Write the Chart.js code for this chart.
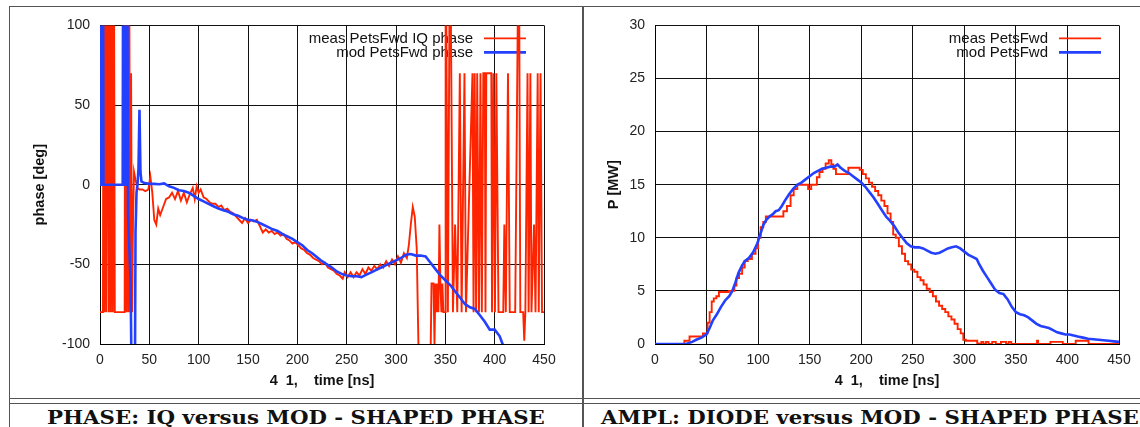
<!DOCTYPE html>
<html>
<head>
<meta charset="utf-8">
<script src="https://cdn.jsdelivr.net/npm/chart.js@4.4.0/dist/chart.umd.min.js"></script>
<style>
  body { margin: 0; width: 1140px; height: 427px; overflow: hidden; background: #fff; position: relative; }
  .rule { position: absolute; background: #555; }
  canvas { position: absolute; }
  .cap { position: absolute; top: 406px; line-height: 19px; font: bold 19px "DejaVu Serif", serif; white-space: nowrap; color: #111;
         transform: scaleX(1.12); transform-origin: 0 0; }
</style>
</head>
<body>
<div class="rule" style="left:9px;top:6px;width:1131px;height:1px"></div>
<div class="rule" style="left:9px;top:6px;width:1px;height:421px"></div>
<div class="rule" style="left:582px;top:6px;width:1.5px;height:421px"></div>
<div class="rule" style="left:9px;top:398px;width:1131px;height:1px"></div>
<div class="rule" style="left:9px;top:403px;width:1131px;height:1px"></div>

<canvas id="phase" width="572" height="391" style="left:10px;top:7px"></canvas>
<canvas id="ampl" width="557" height="391" style="left:584px;top:7px"></canvas>

<div class="cap" style="left:47px">PHASE: IQ versus MOD - SHAPED PHASE</div>
<div class="cap" style="left:601px">AMPL: DIODE versus MOD - SHAPED PHASE</div>

<script>
// phase plot: measured IQ phase (red) and model phase (blue), deg vs ns
var measPhaseT = [0, 3, 3.5, 4.5, 5.5, 6.5, 8, 9, 10, 11, 12, 13, 14, 15, 25, 25.5, 26.5, 27.5, 28.5, 29.5, 30.5, 31.5, 32.5, 33.5, 34.5,
  36, 38, 40, 43, 46, 49, 51, 53, 55, 57, 59, 61, 64, 67, 70, 73, 76, 79, 82, 85, 88, 91, 94, 96, 98,
  100, 102, 105, 108, 111, 114, 117, 120, 123, 126, 129, 132, 135, 138, 141, 144, 147, 150, 153, 156, 159,
  162, 165, 168, 171, 174, 177, 180, 183, 186, 189, 192, 195, 198, 201, 204, 207, 210, 213, 216, 219,
  222, 225, 228, 231, 234, 237, 240, 243, 246, 248, 251, 254, 257, 260, 263, 266, 269, 272, 275, 278,
  281, 284, 287, 290, 293, 296, 299, 302, 305, 308, 311, 313, 315, 317, 319, 321, 323, 330, 335, 336,
  338, 339, 340, 341, 342, 343, 344, 345, 346, 347, 348, 350, 350.3, 352.6, 354.8, 357.7, 359.9, 362.1,
  364.7, 366.5, 369.4, 370.9, 377.5, 378.6, 379.7, 381.2, 382.3, 384.1, 385.6, 387, 388.5, 390, 390.7,
  391.5, 396.6, 397.3, 398.8, 400.3, 401.7, 403.9, 408.7, 409.8, 411.3, 413.5, 415.3, 420.8, 424.5, 426,
  428.9, 430, 431.1, 433.3, 434.4, 436.2, 437.3, 439.9, 441.4, 443.6, 444.7, 446.5, 448, 450];
var measPhase = [-80, -80, 180, -80, 180, -80, 180, -80, 180, -80, 180, -80, 180, -80, -80, 180, -80, 180, -80, 180, -80, 70, -80, -20, 8,
  3, -2, -3, -3, -4, -3, 5, -5, -22, -25, -15, -19, -14, -9, -8, -5, -9, -4, -10, -5, -11, -6, -2, -9, -1,
  -5, -3, -8, -9, -11, -12, -12, -14, -13, -16, -15, -17, -18, -20, -22, -24, -21, -24, -22, -23, -22,
  -26, -30, -28, -30, -29, -31, -30, -32, -31, -34, -35, -37, -36, -38, -40, -41, -43, -44, -46, -47,
  -48, -50, -49, -52, -53, -54, -56, -57, -59, -55, -58, -55, -58, -55, -57, -53, -56, -52, -54, -51,
  -53, -50, -52, -48, -51, -47, -50, -45, -49, -43, -46, -38, -25, -14, -20, -40, -110, -110, -110, -62,
  -62, -100, -62, -80, -62, -80, -25, -62, -80, -62, -80, -80, 180, -80, 180, -80, -25, -80,
  70, -80, 70, -80, 70, -80, 70, -80, 70, -80, 70, -80, 70, 70, -80,
  70, 70, -80, 70, -80, 70, -80, -80, -25, -80, 70, -80, -80, 180, -80,
  -80, -98, -80, 70, -80, 70, -80, -25, -80, 70, -80, 70, -80, -80];

var modPhaseT = [0, 0.5, 2.5, 3, 3.5, 23, 23.5, 25, 25.5, 27, 27.5, 28.5, 31, 33, 35, 36, 37, 38, 39, 40, 41, 42, 45,
  50, 55, 60, 65, 70, 75, 80, 85, 90, 95, 100, 105, 110, 115, 120, 125, 130, 135, 140, 145, 150, 155,
  160, 165, 170, 175, 180, 185, 190, 195, 200, 205, 210, 215, 220, 225, 230, 235, 240, 245, 250, 255,
  260, 265, 270, 275, 280, 285, 290, 295, 300, 305, 310, 315, 320, 325, 330, 335, 340, 345, 350, 355,
  360, 365, 370, 375, 380, 385, 390, 395, 400, 405, 408, 410];
var modPhase = [180, 0, 0, 180, 0, 0, 180, 180, 0, 0, 180, -20, -60, -180, -180, -30, -5, 0, 10, 47, 8, 2, 1,
  0.5, 0.5, 0.3, 0.8, -1, -2, -3.5, -4, -5, -7, -9, -10.5, -12, -13.5, -15, -16, -17, -18.5, -19.5, -21, -22, -22.5,
  -23.5, -25, -26.5, -28, -29, -31, -32.5, -34, -36, -38, -41, -43, -45.5, -48, -50, -52, -54.5, -56, -57, -57.5,
  -57.5, -58, -56.5, -55, -53.5, -52, -50.5, -49, -47.5, -46, -44, -43.5, -44.5, -44.5, -45, -49, -53, -57, -60, -63,
  -67, -71, -75, -77, -78, -82, -86, -91, -91, -95, -100, -105];

// power plot: measured diode (red) and model (blue), MW vs ns
var measPowT = [0, 28, 29, 33, 34, 46, 47, 50, 52, 54, 56, 58, 61, 63, 70, 73, 76, 78, 80, 83, 86, 88, 92, 96, 99,
  101, 104, 106, 109, 113, 118, 123, 126, 130, 133, 136, 140, 143, 147, 150, 153, 156, 158, 161, 164, 167,
  170, 172, 174, 177, 183, 186, 189, 193, 197, 200, 203, 206, 209, 212, 215, 218, 221, 224, 227, 230, 232,
  235, 238, 241, 244, 247, 250, 253, 256, 259, 262, 265, 268, 271, 274, 277, 280, 283, 286, 289, 292, 295,
  298, 300, 303, 312, 313, 315, 318, 319, 323, 324, 330, 331, 340, 341, 345, 346, 370, 371, 372, 395, 396,
  420, 421, 450];
var measPow = [0, 0, 0.3, 0.3, 0.7, 0.7, 1.0, 1.0, 2.0, 3.0, 4.0, 4.3, 4.5, 4.9, 4.9, 5.0, 5.0, 5.5, 6.2, 6.6, 7.2, 7.8, 8.0, 8.5, 9.0,
  10.0, 11.0, 11.5, 12.0, 12.0, 12.0, 12.0, 12.5, 13.0, 14.0, 14.6, 15.0, 15.0, 15.0, 14.6, 15.0, 15.0, 15.7, 16.2, 16.5, 17.0,
  17.3, 16.9, 16.5, 16.0, 16.0, 16.0, 16.6, 16.6, 16.6, 16.4, 16.0, 15.6, 15.2, 14.8, 14.4, 14.0, 13.5, 13.0, 12.3, 11.5, 10.3,
  10.0, 9.2, 8.5, 7.8, 7.5, 7.0, 6.8, 6.3, 6.0, 5.6, 5.2, 4.9, 4.5, 4.0, 3.6, 3.3, 3.0, 2.6, 2.3, 1.9, 1.4,
  1.0, 0.4, 0.3, 0.3, 0.05, 0, 0.2, 0, 0.2, 0, 0.2, 0, 0.2, 0, 0.2, 0, 0, 0.3, 0, 0.2, 0,
  0.3, 0, 0];

var modPowT = [0, 30, 33, 36, 40, 45, 50, 53, 56, 60, 64, 68, 72, 75, 78, 81, 84, 87, 91, 95, 99, 102, 105, 108, 111,
  114, 117, 120, 123, 126, 130, 134, 138, 142, 146, 150, 154, 158, 162, 166, 170, 174, 177, 180, 184, 188,
  192, 196, 200, 204, 208, 212, 216, 220, 224, 228, 232, 236, 240, 244, 248, 252, 256, 260, 264, 268, 272,
  276, 280, 284, 288, 292, 296, 300, 304, 308, 312, 314, 318, 322, 326, 330, 334, 338, 342, 346, 350, 354,
  358, 362, 366, 370, 374, 378, 382, 386, 390, 394, 398, 402, 406, 410, 415, 420, 425, 430, 435, 440, 445, 450];
var modPow = [0, 0, 0.1, 0.2, 0.4, 0.6, 0.9, 1.5, 2.2, 2.8, 3.5, 4.1, 4.5, 5.0, 5.8, 6.7, 7.3, 7.8, 8.1, 8.6, 9.4, 10.3, 11.2, 11.7, 12.0,
  12.2, 12.5, 12.6, 13.0, 13.5, 14.1, 14.6, 15.0, 15.2, 15.5, 15.8, 16.1, 16.3, 16.5, 16.6, 16.7, 16.7, 16.9, 16.6, 16.3, 16.1,
  15.8, 15.5, 15.2, 14.8, 14.3, 13.8, 13.2, 12.6, 12.0, 11.6, 11.1, 10.5, 10.0, 9.5, 9.2, 9.1, 9.1, 9.0, 8.8, 8.6, 8.5,
  8.6, 8.8, 9.0, 9.1, 9.2, 9.0, 8.7, 8.4, 8.2, 8.0, 7.6, 6.9, 6.3, 5.7, 5.1, 4.8, 4.7, 4.2, 3.5, 3.0, 2.8,
  2.7, 2.5, 2.2, 1.9, 1.7, 1.6, 1.5, 1.3, 1.1, 1.0, 0.9, 0.9, 0.8, 0.7, 0.6, 0.5, 0.45, 0.4, 0.35, 0.3, 0.25, 0.2];

var xTicks = [0, 50, 100, 150, 200, 250, 300, 350, 400, 450];
var xTitle = '4  1,    time [ns]';

var RED = 'rgb(255,36,0)';
var BLUE = 'rgb(36,64,255)';
var SANS = '"Liberation Sans", Arial, sans-serif';

function pts(t, v) {
  return t.map(function(x, i) { return {x: x, y: v[i]}; });
}

// key in the top right corner, text then a line sample, under the curves
var keyPlugin = {
  id: 'key',
  beforeDatasetsDraw: function(chart) {
    var ctx = chart.ctx, a = chart.chartArea;
    ctx.save();
    ctx.font = '15px ' + SANS;
    ctx.textAlign = 'right';
    ctx.textBaseline = 'middle';
    chart.data.datasets.forEach(function(ds, i) {
      var y = a.top + 13 + i * 14;
      ctx.fillStyle = '#111';
      ctx.fillText(ds.label, a.right - 71, y);
      ctx.strokeStyle = ds.borderColor;
      ctx.lineWidth = ds.borderWidth;
      ctx.beginPath();
      ctx.moveTo(a.right - 60, y);
      ctx.lineTo(a.right - 18, y);
      ctx.stroke();
    });
    ctx.restore();
  }
};

function makePlot(id, cfg) {
  return new Chart(document.getElementById(id), {
    type: 'line',
    data: {
      datasets: [
        { label: cfg.names[0], data: pts(cfg.measT, cfg.meas), borderColor: RED, borderWidth: 1.9,
          pointRadius: 0, tension: 0, fill: false, order: 1, stepped: cfg.stepped },
        { label: cfg.names[1], data: pts(cfg.modT, cfg.mod), borderColor: BLUE, borderWidth: 2.6,
          pointRadius: 0, tension: 0, fill: false, order: 0 }
      ]
    },
    options: {
      responsive: false,
      animation: false,
      devicePixelRatio: 1,
      layout: { padding: { left: 18, top: 18, right: cfg.padRight, bottom: 0 } },
      plugins: { legend: { display: false }, tooltip: { enabled: false } },
      scales: {
        x: {
          type: 'linear', min: 0, max: 450,
          afterBuildTicks: function(s) { s.ticks = xTicks.map(function(v) { return {value: v}; }); },
          ticks: { autoSkip: false, maxRotation: 0, padding: 8, color: '#222', font: { family: SANS, size: 14 } },
          grid: { color: '#111', drawTicks: false },
          border: { color: '#000' },
          title: { display: true, text: xTitle, color: '#111', padding: { top: 4, bottom: 8 },
                   font: { family: SANS, size: 14.5, weight: 'bold' } },
          afterFit: function(s) { s.height = 54; }
        },
        y: {
          min: cfg.yMin, max: cfg.yMax,
          ticks: { stepSize: cfg.yStep, padding: 10, color: '#222', font: { family: SANS, size: 14 } },
          grid: { color: '#111', drawTicks: false },
          border: { color: '#000' },
          title: { display: true, text: cfg.yTitle, color: '#111', padding: { top: 3, bottom: 0 },
                   font: { family: SANS, size: 14.5, weight: 'bold' } },
          afterFit: function(s) { s.width = cfg.yWidth; }
        }
      }
    },
    plugins: [keyPlugin]
  });
}

makePlot('phase', {
  names: ['meas PetsFwd IQ phase', 'mod PetsFwd phase'],
  measT: measPhaseT, meas: measPhase, modT: modPhaseT, mod: modPhase,
  yMin: -100, yMax: 100, yStep: 50, yTitle: 'phase [deg]',
  yWidth: 72, padRight: 38, stepped: false
});

makePlot('ampl', {
  names: ['meas PetsFwd', 'mod PetsFwd'],
  measT: measPowT, meas: measPow, modT: modPowT, mod: modPow,
  yMin: 0, yMax: 30, yStep: 5, yTitle: 'P [MW]',
  yWidth: 53, padRight: 22, stepped: 'middle'
});
</script>
</body>
</html>
